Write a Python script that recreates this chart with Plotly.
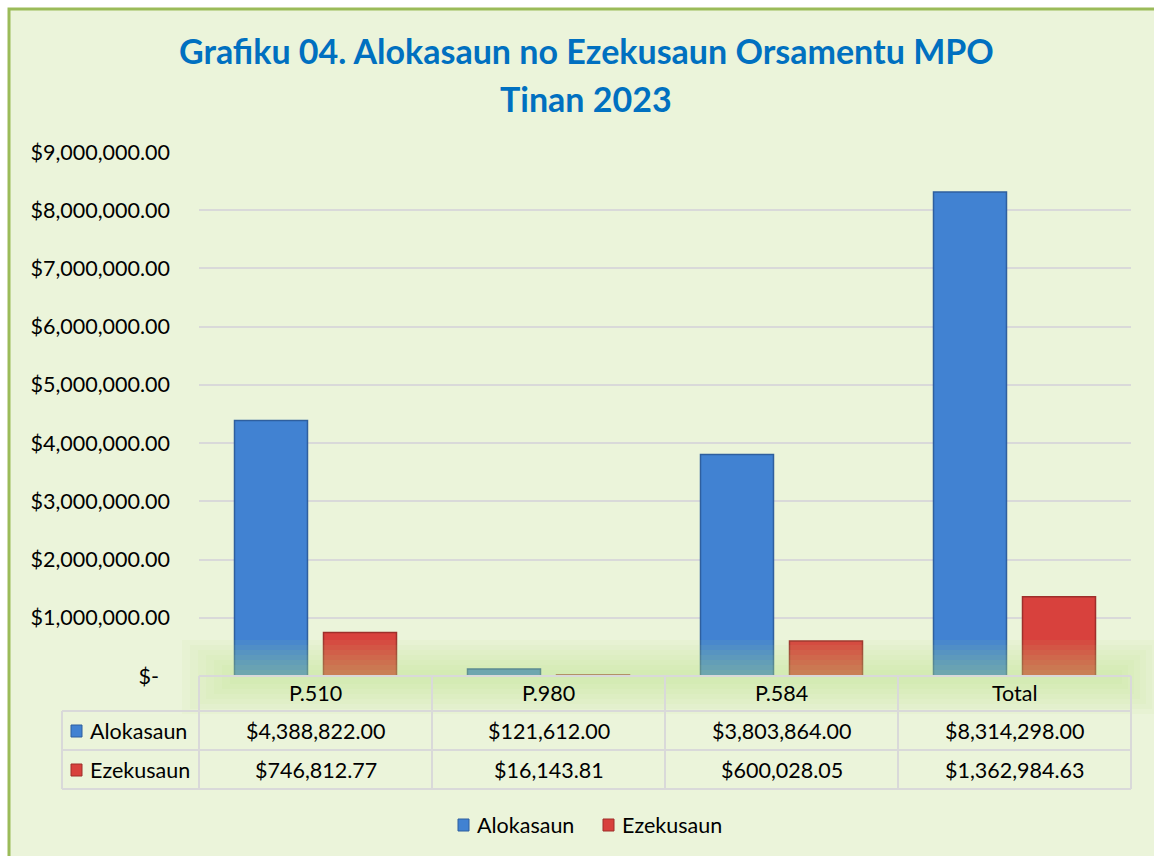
import plotly.graph_objects as go

categories = ["P.510", "P.980", "P.584", "Total"]
alokasaun = [4388822.00, 121612.00, 3803864.00, 8314298.00]
ezekusaun = [746812.77, 16143.81, 600028.05, 1362984.63]
series_names = ["Alokasaun", "Ezekusaun"]
tick_vals = [0, 1e6, 2e6, 3e6, 4e6, 5e6, 6e6, 7e6, 8e6, 9e6]
tick_text = ["$-\u00a0\u00a0"] + [f"${v:,.2f}" for v in tick_vals[1:]]
title_lines = ["Grafiku 04. Alokasaun no Ezekusaun Orsamentu MPO", "Tinan 2023"]

W, H = 1154, 856
L, R, T, B = 199, 1131, 152, 676
FONT = "Lato"
BLUE = "#4182D2"
RED = "#D8413D"
BLUE_LINE = "#2F5F9E"
RED_LINE = "#9E2E2B"
GRID = "#D9D9D9"
BG = "#EBF4DA"
FS = 21.5


def px(x):
    return (x - L) / (R - L)


def py(y):
    return (B - y) / (B - T)


fig = go.Figure()
fig.add_trace(go.Bar(x=categories, y=alokasaun, name=series_names[0],
                     marker=dict(color=BLUE, line=dict(color=BLUE_LINE, width=1.5))))
fig.add_trace(go.Bar(x=categories, y=ezekusaun, name=series_names[1],
                     marker=dict(color=RED, line=dict(color=RED_LINE, width=1.5))))

shapes = []
# chart background with green border
shapes.append(dict(type="rect", xref="paper", yref="paper", x0=px(9), x1=px(W + 20), y0=py(9), y1=py(H + 20),
                   fillcolor=BG, line=dict(color="#9BBB59", width=3), layer="below"))
# soft glow band near baseline
for i in range(7):
    shapes.append(dict(type="rect", xref="paper", yref="paper",
                       x0=px(182 + i * 8), x1=px(1158 - i * 6),
                       y0=py(714 - i * 5), y1=py(640 + i * 5),
                       fillcolor="#BFE27A", opacity=0.07, line=dict(width=0), layer="above"))

# table lines
line_style = dict(color=GRID, width=2)
col_edges = [199, 432, 665, 898, 1131]
for xe in col_edges:
    shapes.append(dict(type="line", xref="paper", yref="paper", x0=px(xe), x1=px(xe), y0=py(676), y1=py(789), line=line_style))
shapes.append(dict(type="line", xref="paper", yref="paper", x0=px(62), x1=px(62), y0=py(711), y1=py(789), line=line_style))
shapes.append(dict(type="line", xref="paper", yref="paper", x0=px(199), x1=px(1131), y0=py(676), y1=py(676), line=line_style))
for ye in [711, 750, 789]:
    shapes.append(dict(type="line", xref="paper", yref="paper", x0=px(62), x1=px(1131), y0=py(ye), y1=py(ye), line=line_style))

annotations = []
# title
for txt, yc in zip(title_lines, [50, 98]):
    annotations.append(dict(text=f"<b>{txt}</b>", xref="paper", yref="paper", x=px(586), y=py(yc),
                            showarrow=False, font=dict(family=FONT, size=34, color="#0070C0"),
                            xanchor="center", yanchor="middle"))

# table header and values
tfont = dict(family=FONT, size=FS, color="#000000")
for i, c in enumerate(categories):
    annotations.append(dict(text=c, xref="x", yref="paper", x=c, y=py(693), showarrow=False, font=tfont,
                            xanchor="center", yanchor="middle"))
    annotations.append(dict(text=f"${alokasaun[i]:,.2f}", xref="x", yref="paper", x=c, y=py(731), showarrow=False,
                            font=tfont, xanchor="center", yanchor="middle"))
    annotations.append(dict(text=f"${ezekusaun[i]:,.2f}", xref="x", yref="paper", x=c, y=py(770), showarrow=False,
                            font=tfont, xanchor="center", yanchor="middle"))

# row labels with icons
for name, yc, col, lc in [(series_names[0], 731, BLUE, BLUE_LINE), (series_names[1], 770, RED, RED_LINE)]:
    shapes.append(dict(type="rect", xref="paper", yref="paper", x0=px(71), x1=px(82), y0=py(yc + 6), y1=py(yc - 6),
                       fillcolor=col, line=dict(color=lc, width=1)))
    annotations.append(dict(text=name, xref="paper", yref="paper", x=px(88), y=py(yc), showarrow=False, font=tfont,
                            xanchor="left", yanchor="middle"))

# legend (bottom)
for name, x_icon, col, lc in [(series_names[0], 458, BLUE, BLUE_LINE), (series_names[1], 603, RED, RED_LINE)]:
    shapes.append(dict(type="rect", xref="paper", yref="paper", x0=px(x_icon), x1=px(x_icon + 11),
                       y0=py(831), y1=py(819), fillcolor=col, line=dict(color=lc, width=1)))
    annotations.append(dict(text=name, xref="paper", yref="paper", x=px(x_icon + 17), y=py(825), showarrow=False,
                            font=tfont, xanchor="left", yanchor="middle"))

fig.update_layout(
    width=W, height=H,
    margin=dict(l=L, r=W - R, t=T, b=H - B, autoexpand=False),
    paper_bgcolor="#FFFFFF",
    plot_bgcolor="rgba(0,0,0,0)",
    barmode="group",
    bargap=0.236,
    bargroupgap=0.18,
    font=dict(family=FONT, size=FS, color="#000000"),
    showlegend=False,
    shapes=shapes,
    annotations=annotations,
)
fig.update_xaxes(showticklabels=False, showgrid=False, zeroline=False, showline=False, ticks="")
fig.update_yaxes(range=[0, 9e6], tickvals=tick_vals, ticktext=tick_text, showgrid=True,
                 gridcolor=GRID, gridwidth=2, zeroline=False, showline=False, ticks="",
                 ticklabelstandoff=28, tickfont=dict(family=FONT, size=FS, color="#000000"))

fig.write_html("out.html", config={"displayModeBar": False},
               post_script="document.body.style.margin='0';document.body.style.overflow='hidden';")
